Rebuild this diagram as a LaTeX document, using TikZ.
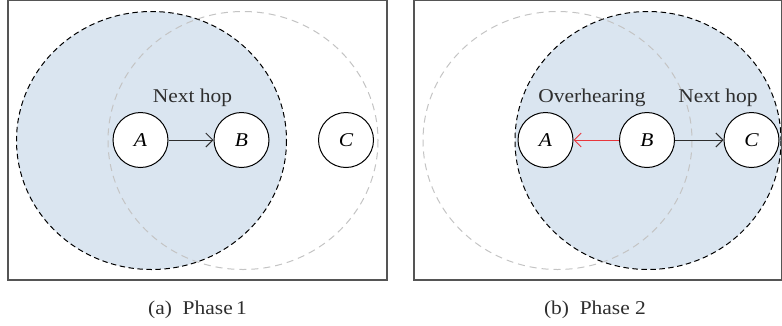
\documentclass[tikz,border=0pt]{standalone}
\usepackage{fontspec}
\setmainfont{Liberation Serif}[FakeStretch=1.1]
\usetikzlibrary{arrows.meta}
\definecolor{rangefill}{HTML}{DAE5F0}
\definecolor{ghost}{HTML}{C4C4C4}
\definecolor{framec}{HTML}{555555}
\definecolor{txt}{HTML}{2E2E2E}
\definecolor{overred}{HTML}{E8363C}
\tikzset{
  framebox/.style={draw=framec, line width=1.3pt},
  activerange/.style={fill=rangefill, draw=black, line width=1pt, dash pattern=on 5.5pt off 3.5pt},
  ghostrange/.style={draw=ghost, line width=1pt, dash pattern=on 7pt off 5pt},
  station/.style={circle, draw=black, fill=white, line width=1pt, minimum size=55pt, inner sep=0pt, font=\fontsize{19.5}{21}\selectfont\itshape, text=black},
  lbl/.style={font=\fontsize{19.5}{21}\selectfont, text=txt, inner sep=0pt},
  hop/.style={draw=txt, line width=1pt, -{Straight Barb[length=7pt,width=14pt,line width=1pt]}},
}
\begin{document}
\begin{tikzpicture}[x=1pt,y=-1pt]
\useasboundingbox (0,0) rectangle (782,325);
% panel (a)
\fill[white] (8,0.7) rectangle (387,280);
\draw[activerange] (151.5,140.5) ellipse [x radius=135, y radius=129];
\draw[ghostrange] (243,140.5) ellipse [x radius=135, y radius=129];
\draw[framebox] (8,0.7) rectangle (387,280);
\node[station] (a1) at (140.5,140) {A};
\node[station] (b1) at (241.5,140) {B};
\node[station] (c1) at (346,140) {C};
\draw[hop] (a1) -- (b1);
\node[lbl] (nh1) at (192.5,98) {Next hop};
\node[lbl] (capa) at (197.5,310) {(a)\ \ Phase\,1};
% panel (b)
\draw[activerange] (648,140.5) ellipse [x radius=133, y radius=129];
\draw[ghostrange] (557.5,140.5) ellipse [x radius=134.5, y radius=129];
\draw[framebox] (414,0.7) rectangle (781.4,280);
\node[station] (a2) at (545.5,140) {A};
\node[station] (b2) at (647,140) {B};
\node[station] (c2) at (751.5,140) {C};
\draw[hop, draw=overred] (b2) -- (a2);
\draw[hop] (b2) -- (c2);
\node[lbl] (ov) at (592,98) {Overhearing};
\node[lbl] (nh2) at (718,98) {Next hop};
\node[lbl] (capb) at (595,310) {(b)\ \ Phase\ 2};
\end{tikzpicture}
\end{document}
